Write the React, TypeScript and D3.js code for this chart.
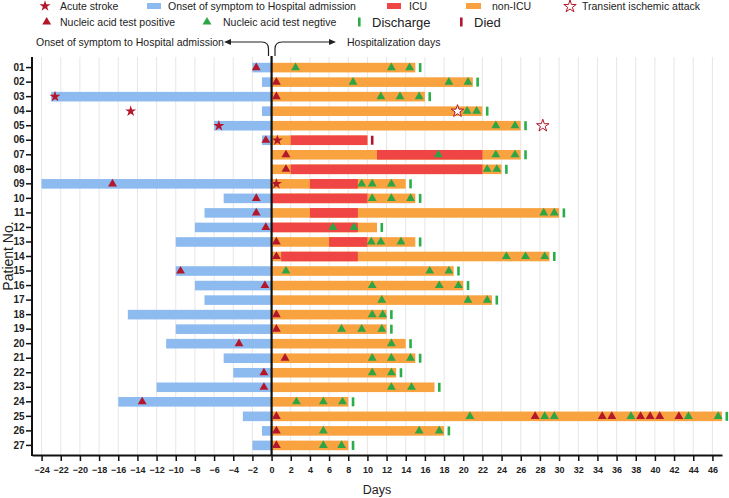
import React, { useEffect, useRef } from "react";
import * as d3 from "d3";

const patients = ["01","02","03","04","05","06","07","08","09","10","11","12","13","14","15","16","17","18","19","20","21","22","23","24","25","26","27"];
const onsetDays = [-2,-1,-23,-1,-6,-1,0,0,-24,-5,-7,-8,-10,0,-10,-8,-7,-15,-10,-11,-5,-4,-12,-16,-3,-1,-2];
const hospEnd = [15,21,16,22,26,10,26,24,14,15,30,11,15,29,19,20,23,12,12,14,15,13,17,8,47,18,8];
const icuStart: (number | null)[] = [null,null,null,null,null,2,11,2,4,0,4,0,6,1,null,null,null,null,null,null,null,null,null,null,null,null,null];
const icuEnd: (number | null)[] = [null,null,null,null,null,10,22,22,9,10,9,9,10,9,null,null,null,null,null,null,null,null,null,null,null,null,null];
const dischargeDay: (number | null)[] = [15.5,21.5,16.5,22.5,26.5,null,26.5,24.5,14.5,15.5,30.5,11.5,15.5,29.5,19.5,20.5,23.5,12.5,12.5,14.5,15.5,13.5,17.5,8.5,47.5,18.5,8.5];
const diedDay: (number | null)[] = [null,null,null,null,null,10.5,null,null,null,null,null,null,null,null,null,null,null,null,null,null,null,null,null,null,null,null,null];
const positiveTests: number[][] = [
  [-1.6],[0.5],[0.5],[],[],[-0.6],[1.5],[1.5],[-16.6],[-1.6],[-1.6],[-0.6],[0.5],[0.5],[-9.5],[-0.7],[],[0.5],[0.5],[-3.4],[1.4],[-0.8],[-0.8],[-13.5],
  [0.5,27.5,34.5,35.5,38.5,39.5,40.5,42.5],[0.5],[0.5]
];
const negativeTests: number[][] = [
  [2.5,12.5,14.4],[8.5,18.5,20.5],[11.4,13.4,15.4],[20.4,21.4],[23.4,25.4],[],[17.4,23.4,25.4],[22.5,23.5],[9.4,10.5,12.5],[10.5,12.5,14.5],
  [28.4,29.5],[6.4,8.6],[10.4,11.4,13.5],[24.5,26.5,28.5],[1.5,16.5,18.5],[10.5,17.5,19.5],[11.5,20.5,22.5],[10.5,11.6],[7.3,9.4,11.5],[12.5],
  [10.5,12.5,14.5],[10.5,12.5],[12.5,14.6],[2.6,5.4,7.4],[20.7,28.5,29.5,37.5,43.5,46.6],[5.4,15.4,17.5],[5.4,7.3]
];
const strokeDays: (number | null)[] = [null,null,-22.6,-14.7,-5.5,0.6,null,null,0.5,null,null,null,null,null,null,null,null,null,null,null,null,null,null,null,null,null,null];
const tiaDays: (number | null)[] = [null,null,null,19.4,28.3,null,null,null,null,null,null,null,null,null,null,null,null,null,null,null,null,null,null,null,null,null,null];
const xTickValues = [-24,-22,-20,-18,-16,-14,-12,-10,-8,-6,-4,-2,0,2,4,6,8,10,12,14,16,18,20,22,24,26,28,30,32,34,36,38,40,42,44,46];

const C = {
  blue: "#8DBBF0",
  orange: "#F8A33F",
  red: "#F04545",
  dark: "#B2172B",
  green: "#2EA545",
  greenTick: "#2BAE4A",
  grid: "#E6E6E6",
};
const FONT = "'Liberation Sans', Arial, sans-serif";

const x = d3.scaleLinear().domain([-25, 47]).range([32, 722]);
const y = d3.scaleBand<string>().domain(patients).range([58, 455]).paddingInner(0.34).paddingOuter(0.33);
const bw = y.bandwidth();
const tri = d3.symbol().type(d3.symbolTriangle).size(34)()!;
const star = d3.symbol().type(d3.symbolStar).size(38)()!;
const starBig = d3.symbol().type(d3.symbolStar).size(48)()!;

export default function App() {
  const xAxisRef = useRef<SVGGElement>(null);
  const yAxisRef = useRef<SVGGElement>(null);

  useEffect(() => {
    const xa = d3.select(xAxisRef.current!);
    xa.call(d3.axisBottom(x).tickValues(xTickValues).tickSize(6).tickSizeOuter(0).tickFormat(d3.format("d")) as any);
    xa.select(".domain").attr("stroke", "#111").attr("stroke-width", 2);
    xa.selectAll(".tick line").attr("stroke", "#111").attr("stroke-width", 1.5);
    xa.selectAll(".tick text").attr("font-family", FONT).attr("font-size", 9).attr("font-weight", "bold").attr("fill", "#222").attr("dy", "0.95em");
    const ya = d3.select(yAxisRef.current!);
    ya.call(d3.axisLeft(y).tickSize(6).tickSizeOuter(0) as any);
    ya.select(".domain").remove();
    ya.selectAll(".tick line").attr("stroke", "#111").attr("stroke-width", 1.5);
    ya.selectAll(".tick text").attr("font-family", FONT).attr("font-size", 10).attr("font-weight", "bold").attr("fill", "#222").attr("x", -7.5);
  }, []);

  const cy = (i: number) => (y(patients[i]) as number) + bw / 2;

  return (
    <div style={{ position: "absolute", left: 0, top: 0 }}>
      <svg width={729} height={498} style={{ display: "block", background: "#fff" }}>
        {/* legend */}
        <g fontFamily={FONT} fill="#222">
          <path d={star} transform="translate(45,6)" fill={C.dark} />
          <text x={60} y={9.7} fontSize={10.5}>Acute stroke</text>
          <rect x={147} y={3} width={14} height={6} fill={C.blue} />
          <text x={168} y={9.7} fontSize={10.5}>Onset of symptom to Hospital admission</text>
          <rect x={387} y={3} width={14} height={6} fill={C.red} />
          <text x={409} y={9.7} fontSize={10.5}>ICU</text>
          <rect x={466} y={3} width={15} height={6} fill={C.orange} />
          <text x={492} y={9.7} fontSize={10.5}>non-ICU</text>
          <path d={starBig} transform="translate(570,6.5)" fill="#fff" stroke={C.dark} strokeWidth={1} />
          <text x={582} y={9.7} fontSize={10.5}>Transient ischemic attack</text>

          <path d={tri} transform="translate(46.7,22)" fill={C.dark} />
          <text x={60} y={25.5} fontSize={10.5}>Nucleic acid test positive</text>
          <path d={tri} transform="translate(207,22)" fill={C.green} />
          <text x={223} y={25.5} fontSize={10.5}>Nucleic acid test negtive</text>
          <rect x={358} y={17.5} width={2.6} height={9} fill={C.greenTick} />
          <text x={372} y={27} fontSize={13}>Discharge</text>
          <rect x={460} y={17.5} width={2.6} height={9} fill={C.dark} />
          <text x={474} y={27} fontSize={13}>Died</text>
        </g>

        {/* arrows */}
        <g fontFamily={FONT} fill="#222" fontSize={10.5}>
          <text x={36} y={45.7}>Onset of symptom to Hospital admission</text>
          <text x={347} y={45.7}>Hospitalization days</text>
          <path d="M230,42 L262,42 Q268.5,42 268.5,49 L268.5,56" fill="none" stroke="#222" strokeWidth={1.2} />
          <path d="M224,42 L231,39 L231,45 Z" fill="#222" />
          <path d="M275,56 L275,49 Q275,42 282,42 L330,42" fill="none" stroke="#222" strokeWidth={1.2} />
          <path d="M336,42 L329,39 L329,45 Z" fill="#222" />
        </g>

        {/* grid */}
        <g>
          {xTickValues.filter((v) => v !== 0).map((v) => (
            <line key={v} x1={x(v)} x2={x(v)} y1={57} y2={455} stroke={C.grid} strokeWidth={1} />
          ))}
        </g>

        {/* bars */}
        <g>
          {patients.map((p, i) => (
            <g key={p}>
              {onsetDays[i] < 0 && (
                <rect x={x(onsetDays[i])} y={y(p)} width={x(0) - x(onsetDays[i])} height={bw} fill={C.blue} />
              )}
              <rect x={x(0)} y={y(p)} width={x(hospEnd[i]) - x(0)} height={bw} fill={C.orange} />
              {icuStart[i] !== null && (
                <rect x={x(icuStart[i] as number)} y={y(p)} width={x(icuEnd[i] as number) - x(icuStart[i] as number)} height={bw} fill={C.red} />
              )}
            </g>
          ))}
        </g>

        {/* zero line */}
        <line x1={x(0)} x2={x(0)} y1={56} y2={455} stroke="#111" strokeWidth={2.2} />

        {/* markers */}
        <g>
          {patients.map((p, i) => (
            <g key={p}>
              {negativeTests[i].map((d, j) => (
                <path key={"n" + j} d={tri} transform={`translate(${x(d)},${cy(i)})`} fill={C.green} />
              ))}
              {positiveTests[i].map((d, j) => (
                <path key={"p" + j} d={tri} transform={`translate(${x(d)},${cy(i)})`} fill={C.dark} />
              ))}
              {strokeDays[i] !== null && (
                <path d={star} transform={`translate(${x(strokeDays[i] as number)},${cy(i)})`} fill={C.dark} />
              )}
              {tiaDays[i] !== null && (
                <path d={starBig} transform={`translate(${x(tiaDays[i] as number)},${cy(i)})`} fill="#fff" stroke={C.dark} strokeWidth={1} />
              )}
              {dischargeDay[i] !== null && (
                <rect x={x(dischargeDay[i] as number) - 1.3} y={cy(i) - 4.5} width={2.6} height={9} fill={C.greenTick} />
              )}
              {diedDay[i] !== null && (
                <rect x={x(diedDay[i] as number) - 1.3} y={cy(i) - 4.5} width={2.6} height={9} fill={C.dark} />
              )}
            </g>
          ))}
        </g>

        {/* axes */}
        <line x1={32} x2={32} y1={57} y2={456} stroke="#111" strokeWidth={2} />
        <g ref={xAxisRef} transform="translate(0,455)" />
        <g ref={yAxisRef} transform="translate(32,0)" />

        <text x={377} y={494} fontFamily={FONT} fontSize={12.5} textAnchor="middle" fill="#222">Days</text>
        <text transform="translate(13,256) rotate(-90)" fontFamily={FONT} fontSize={14} textAnchor="middle" fill="#222">Patient No.</text>
      </svg>
    </div>
  );
}
